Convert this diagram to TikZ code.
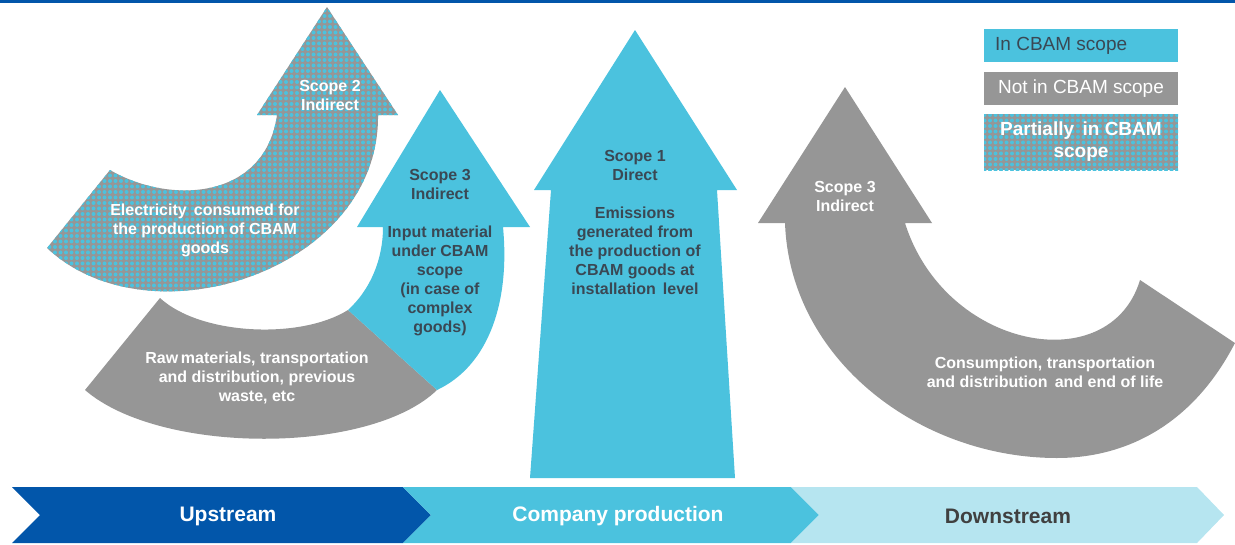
\documentclass[tikz,border=0pt]{standalone}
\usepackage{fontspec}
\setmainfont{Liberation Sans}
\usepackage{xcolor}
\usetikzlibrary{patterns.meta}
\definecolor{cyanscope}{RGB}{75,194,222}
\definecolor{grisscope}{RGB}{150,150,150}
\definecolor{bleuscope}{RGB}{2,86,170}
\definecolor{clairscope}{RGB}{182,229,240}
\definecolor{textesombre}{RGB}{58,72,84}
\definecolor{textegris}{RGB}{64,64,64}

\begin{document}
\begin{tikzpicture}[x=1pt, y=-1pt,
    enscope/.style={fill=cyanscope},
    horsscope/.style={fill=grisscope},
    partiel/.style={preaction={fill=grisscope}, pattern={Dots[distance=5.5pt, radius=2pt]}, pattern color=cyanscope},
    txtsombre/.style={align=center, text=textesombre, font=\fontsize{16}{19}\selectfont\bfseries},
    txtblanc/.style={align=center, text=white, font=\fontsize{16}{19}\selectfont\bfseries},
    etape/.style={font=\fontsize{21}{25}\selectfont\bfseries},
    legende/.style={font=\fontsize{19}{22}\selectfont}]
    \useasboundingbox (0,0) rectangle (1235,544);
    % filet du haut
    \fill[bleuscope] (0,0) rectangle (1235,3);

    % scope 2 (partiellement)
    \fill[partiel] (110,170) .. controls (170,205) and (265,200) .. (277,115)
        -- (257,115) -- (327,7) -- (398,115) -- (378,115)
        .. controls (380,270) and (150,345) .. (47,248) -- cycle;
    \node[txtblanc] (scopedeux) at (330,95) {Scope 2\\Indirect};
    \node[txtblanc] (electricite) at (205,230) {Electricity\, consumed for\\the production of CBAM\\goods};

    % scope 3 amont : partie grise puis partie cyan
    \fill[horsscope] (160,298) .. controls (200,335) and (300,340) .. (348,310)
        -- (437,390) .. controls (370,455) and (160,455) .. (85,390) -- cycle;
    \fill[enscope] (348,310) .. controls (370,290) and (383,260) .. (383,227)
        -- (357,227) -- (440,90) -- (530,227) -- (503,227)
        .. controls (510,300) and (490,365) .. (437,390) -- cycle;
    \node[txtblanc] (matieres) at (257,378) {Raw\,materials, transportation\\and distribution, previous\\waste, etc};
    \node[txtsombre] (scopetroisamont) at (440,253) {Scope 3\\Indirect\\[19pt]Input material\\under CBAM\\scope\\(in case of\\complex\\goods)};

    % scope 1
    \fill[enscope] (530,478) -- (551,190) -- (534,190) -- (635,30)
        -- (737,190) -- (717,190) -- (735,478) -- cycle;
    \node[txtsombre] (scopeun) at (635,222) {Scope 1\\Direct\\[19pt]Emissions\\generated from\\the production of\\CBAM goods at\\installation\, level};

    % scope 3 aval
    \fill[horsscope] (905,223) .. controls (945,350) and (1110,380) .. (1140,280)
        -- (1235,343) .. controls (1190,430) and (1120,458) .. (1057,458)
        .. controls (920,458) and (790,360) .. (785,223)
        -- (758,223) -- (845,87) -- (932,223) -- cycle;
    \node[txtblanc] (scopetroisaval) at (845,196) {Scope 3\\Indirect};
    \node[txtblanc] (consommation) at (1045,372) {Consumption, transportation\\and distribution\, and end of life};

    % légende
    \fill[enscope] (984,29) rectangle (1178,62);
    \fill[horsscope] (984,72) rectangle (1178,105);
    \fill[partiel] (984,114) rectangle (1178,170);
    \node[legende, text=textesombre, anchor=west, inner sep=0pt] (legin) at (995,46) {In CBAM scope};
    \node[legende, text=white] (leghors) at (1081,89) {Not in CBAM scope};
    \node[legende, text=white, font=\fontsize{19}{22}\selectfont\bfseries, align=center] (legpartiel) at (1081,142) {Partially\, in CBAM\\scope};

    % bandeau des étapes
    \fill[bleuscope] (12,487) -- (403,487) -- (431,515) -- (403,543) -- (12,543) -- (40,515) -- cycle;
    \fill[cyanscope] (403,487) -- (791,487) -- (819,515) -- (791,543) -- (403,543) -- (431,515) -- cycle;
    \fill[clairscope] (791,487) -- (1197,487) -- (1224,515) -- (1197,543) -- (791,543) -- (819,515) -- cycle;
    \node[etape, text=white] (amont) at (228,516) {Upstream};
    \node[etape, text=white] (production) at (618,516) {Company production};
    \node[etape, text=textegris] (aval) at (1008,516) {Downstream};
\end{tikzpicture}
\end{document}
